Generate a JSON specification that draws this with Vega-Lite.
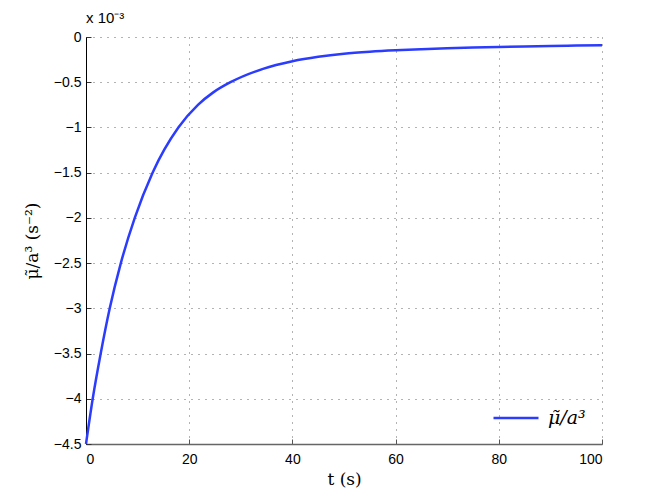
{
  "$schema": "https://vega.github.io/schema/vega-lite/v6.json",
  "autosize": "none",
  "width": 516,
  "height": 407,
  "padding": {"left": 86, "top": 37, "right": 62, "bottom": 56},
  "background": "white",
  "title": {"text": "x 10⁻³", "anchor": "start", "frame": "group", "font": "Liberation Sans", "fontSize": 15, "fontWeight": "normal", "color": "black", "offset": 4},
  "data": {"values": [
    {"t": 0, "value": -0.0045, "series": "μ̃/a³"},
    {"t": 1.3, "value": -0.004, "series": "μ̃/a³"},
    {"t": 2.85, "value": -0.0035, "series": "μ̃/a³"},
    {"t": 4.6, "value": -0.003, "series": "μ̃/a³"},
    {"t": 6.75, "value": -0.0025, "series": "μ̃/a³"},
    {"t": 9.45, "value": -0.002, "series": "μ̃/a³"},
    {"t": 12.9, "value": -0.0015, "series": "μ̃/a³"},
    {"t": 17.9, "value": -0.001, "series": "μ̃/a³"},
    {"t": 21.7, "value": -0.00075, "series": "μ̃/a³"},
    {"t": 24.6, "value": -0.000615, "series": "μ̃/a³"},
    {"t": 28, "value": -0.0005, "series": "μ̃/a³"},
    {"t": 34.3, "value": -0.000352, "series": "μ̃/a³"},
    {"t": 40, "value": -0.000268, "series": "μ̃/a³"},
    {"t": 45, "value": -0.000219, "series": "μ̃/a³"},
    {"t": 50, "value": -0.000185, "series": "μ̃/a³"},
    {"t": 55, "value": -0.000163, "series": "μ̃/a³"},
    {"t": 60, "value": -0.000147, "series": "μ̃/a³"},
    {"t": 65, "value": -0.000135, "series": "μ̃/a³"},
    {"t": 70, "value": -0.000125, "series": "μ̃/a³"},
    {"t": 75, "value": -0.000117, "series": "μ̃/a³"},
    {"t": 80, "value": -0.00011, "series": "μ̃/a³"},
    {"t": 85, "value": -0.000104, "series": "μ̃/a³"},
    {"t": 90, "value": -0.000099, "series": "μ̃/a³"},
    {"t": 95, "value": -0.000095, "series": "μ̃/a³"},
    {"t": 100, "value": -0.000091, "series": "μ̃/a³"}
  ]},
  "mark": {"type": "line", "interpolate": "monotone", "strokeWidth": 2.5},
  "encoding": {
    "x": {
      "field": "t", "type": "quantitative",
      "scale": {"domain": [0, 100], "nice": false, "zero": false},
      "axis": {
        "values": [0, 20, 40, 60, 80, 100],
        "title": "t (s)",
        "titleFont": "DejaVu Serif", "titleFontSize": 17, "titleFontWeight": "normal", "titleColor": "black",
        "titlePadding": 5,
        "labelFont": "Liberation Sans", "labelFontSize": 14, "labelColor": "black",
        "labelPadding": 13,
        "tickSize": -5, "tickColor": "#555",
        "domainColor": "#666", "domainWidth": 1.5,
        "grid": true, "gridDash": [1, 6], "gridColor": "#666", "gridOpacity": 1
      }
    },
    "y": {
      "field": "value", "type": "quantitative",
      "scale": {"domain": [-0.0045, 0], "nice": false, "zero": false},
      "axis": {
        "values": [-0.0045, -0.004, -0.0035, -0.003, -0.0025, -0.002, -0.0015, -0.001, -0.0005, 0],
        "labelExpr": "format(datum.value * 1000, '.2~f')",
        "title": "μ̃/a³ (s⁻²)",
        "titleFont": "DejaVu Serif", "titleFontSize": 17, "titleFontWeight": "normal", "titleColor": "black",
        "titlePadding": 12,
        "labelFont": "Liberation Sans", "labelFontSize": 14, "labelColor": "black",
        "labelPadding": 10,
        "tickSize": -5, "tickColor": "#333",
        "domainColor": "black", "domainWidth": 1,
        "grid": true, "gridDash": [1, 6], "gridColor": "#666", "gridOpacity": 1
      }
    },
    "color": {
      "field": "series", "type": "nominal",
      "scale": {"range": ["#2b3cff"]},
      "legend": {
        "title": null,
        "orient": "bottom-right",
        "offset": 16,
        "symbolType": "stroke",
        "symbolSize": 2025,
        "symbolStrokeWidth": 2.5,
        "labelFont": "DejaVu Serif",
        "labelFontSize": 19,
        "labelFontStyle": "italic",
        "labelColor": "black",
        "labelOffset": 8
      }
    }
  },
  "config": {"view": {"stroke": null}}
}
